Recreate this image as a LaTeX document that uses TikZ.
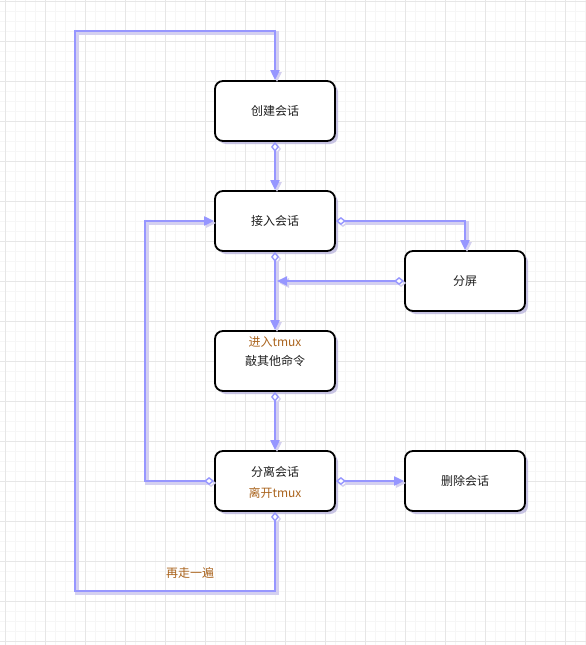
\documentclass[tikz,border=0pt]{standalone}
\usepackage{fontspec}
\newfontfamily\cjk{Noto Sans CJK SC}
\usetikzlibrary{arrows.meta,shadows}
\definecolor{lineblue}{RGB}{150,150,255}
\definecolor{lineshadow}{RGB}{212,208,240}
\definecolor{boxshadow}{RGB}{185,180,220}
\definecolor{labelbrown}{RGB}{170,100,30}
\definecolor{textdark}{RGB}{30,30,30}
\definecolor{gridmajor}{RGB}{230,230,230}
\definecolor{gridminor}{RGB}{246,246,246}
\begin{document}
\begin{tikzpicture}[x=1pt,y=-1pt,
  box/.style={draw=black, line width=1.8pt, rounded corners=8pt, fill=white,
    minimum width=120pt, minimum height=60pt, inner sep=0pt,
    font=\cjk\fontsize{12}{14}\selectfont, text=textdark,
    drop shadow={shadow xshift=3pt, shadow yshift=-3pt, fill=boxshadow, opacity=0.8}},
  txt/.style={inner sep=0pt, font=\cjk\fontsize{12}{14}\selectfont, text=textdark},
  brownlbl/.style={inner sep=0pt, font=\cjk\fontsize{12}{14}\selectfont, text=labelbrown},
  conn/.style={lineblue, line width=2pt,
    {Diamond[open,fill=white,length=10pt,width=8pt,line width=1.4pt]}-{Triangle[length=10pt,width=9pt]},
    preaction={draw=lineshadow, line width=3.5pt, transform canvas={shift={(2pt,-2pt)}}}}
]
\useasboundingbox (0,0) rectangle (586,645);
\fill[white] (0,0) rectangle (586,645);
% grid
\foreach \x in {5,15,...,585} \draw[gridminor, line width=0.6pt] (\x,0) -- (\x,645);
\foreach \y in {1,11,...,641} \draw[gridminor, line width=0.6pt] (0,\y) -- (586,\y);
\foreach \x in {5,45,...,585} \draw[gridmajor, line width=0.8pt] (\x,0) -- (\x,645);
\foreach \y in {1,41,...,641} \draw[gridmajor, line width=0.8pt] (0,\y) -- (586,\y);

% nodes
\node[box] (create) at (275,111) {创建会话};
\node[box] (join) at (275,221) {接入会话};
\node[box] (split) at (465,281) {分屏};
\node[box] (cmd) at (275,361) {敲其他命令};
\node[box] (sep) at (275,481) {};
\node[box] (del) at (465,481) {删除会话};
\node[brownlbl] (enterlbl) at (275,342) {进入tmux};
\node[txt] (septext) at (275,472) {分离会话};
\node[brownlbl] (leavelbl) at (275,493) {离开tmux};

\coordinate (jp) at (277,281);
\coordinate (backx) at (145,481);
\coordinate (loopbl) at (75,591);
\coordinate (looptl) at (75,31);

% connectors
\draw[conn] (create.south) -- (join.north);
\draw[conn] (join.east) -| (split.north);
\draw[conn] (join.south) -- (cmd.north);
\draw[conn] (split.west) -- (jp);
\draw[conn] (cmd.south) -- (sep.north);
\draw[conn] (sep.east) -- (del.west);
\draw[conn] (sep.west) -- (backx) |- (join.west);
\draw[conn] (sep.south) |- (loopbl) -- (looptl) -| (create.north);

\node[brownlbl] (againlbl) at (190,573) {再走一遍};
\end{tikzpicture}
\end{document}
